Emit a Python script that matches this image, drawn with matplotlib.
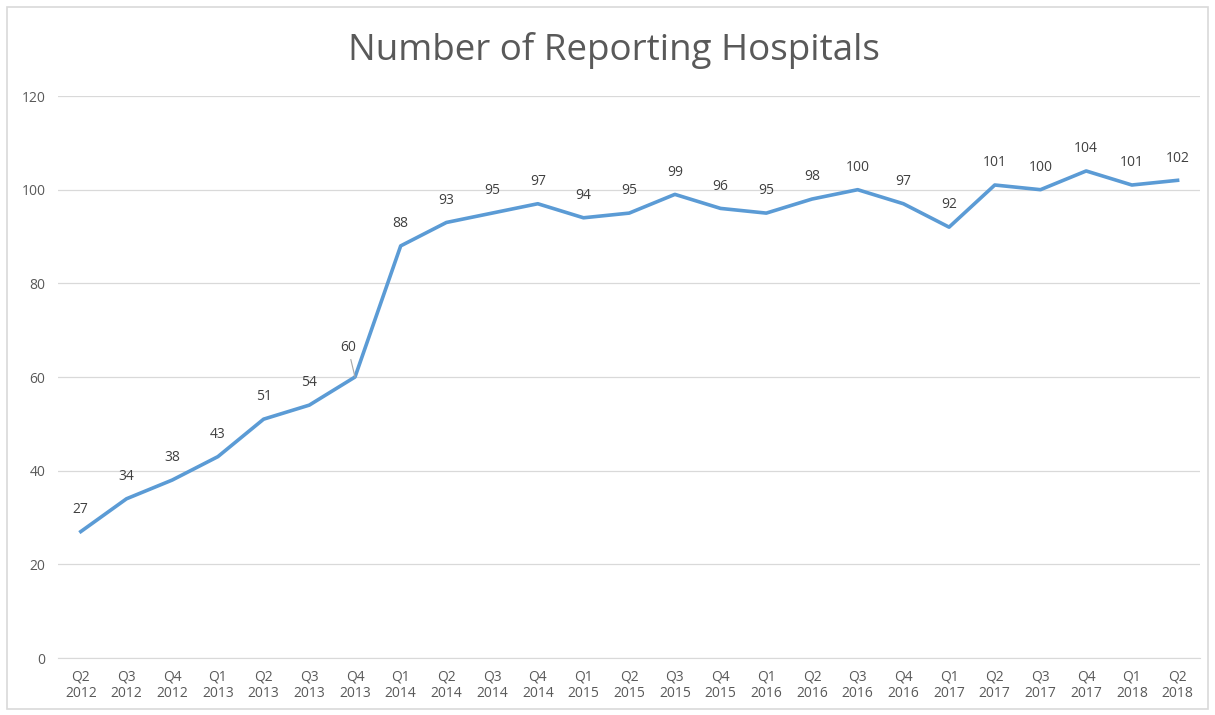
import matplotlib.pyplot as plt
from matplotlib.patches import Rectangle

quarters = ['Q2\n2012', 'Q3\n2012', 'Q4\n2012', 'Q1\n2013', 'Q2\n2013', 'Q3\n2013', 'Q4\n2013',
            'Q1\n2014', 'Q2\n2014', 'Q3\n2014', 'Q4\n2014', 'Q1\n2015', 'Q2\n2015', 'Q3\n2015',
            'Q4\n2015', 'Q1\n2016', 'Q2\n2016', 'Q3\n2016', 'Q4\n2016', 'Q1\n2017', 'Q2\n2017',
            'Q3\n2017', 'Q4\n2017', 'Q1\n2018', 'Q2\n2018']
hospitals = [27, 34, 38, 43, 51, 54, 60, 88, 93, 95, 97, 94, 95, 99, 96, 95, 98, 100, 97, 92,
             101, 100, 104, 101, 102]
y_ticks = [0, 20, 40, 60, 80, 100, 120]

plt.rcParams['font.family'] = ['Open Sans', 'DejaVu Sans']

fig = plt.figure(figsize=(12.15, 7.15), dpi=100)
ax = fig.add_axes([0.0477, 0.0797, 0.9403, 0.786])

x = list(range(len(hospitals)))
ax.plot(x, hospitals, color='#5B9BD5', linewidth=2.6, solid_joinstyle='round')

for i, v in enumerate(hospitals):
    if v == 60:
        # label moved up-left with a leader line, as in the original
        ax.annotate(str(v), (i, v), xytext=(-5, 21), textcoords='offset points',
                    ha='center', va='center', fontsize=10, color='#404040',
                    arrowprops=dict(arrowstyle='-', color='#A6A6A6', lw=0.8,
                                    shrinkA=1, shrinkB=0))
    else:
        ax.annotate(str(v), (i, v), xytext=(0, 16), textcoords='offset points',
                    ha='center', va='center', fontsize=10, color='#404040')

ax.set_xlim(-0.5, len(hospitals) - 0.5)
ax.set_ylim(0, 120)
ax.set_yticks(y_ticks)
ax.set_xticks(x)
ax.set_xticklabels(quarters)
ax.grid(axis='y', color='#D9D9D9', linewidth=0.9)
ax.set_axisbelow(True)
for s in ['top', 'right', 'left']:
    ax.spines[s].set_visible(False)
ax.spines['bottom'].set_color('#D9D9D9')
ax.tick_params(axis='both', length=0, labelsize=10, labelcolor='#595959')
ax.tick_params(axis='x', pad=8)
ax.tick_params(axis='y', pad=9)

fig.text(0.505, 0.93, 'Number of Reporting Hospitals', ha='center', va='center',
         fontsize=26.5, color='#595959')

fig.patches.append(Rectangle((0.006, 0.008), 0.988, 0.982, transform=fig.transFigure,
                             fill=False, edgecolor='#D9D9D9', linewidth=1.2))

fig.savefig('out.png', dpi=100)
